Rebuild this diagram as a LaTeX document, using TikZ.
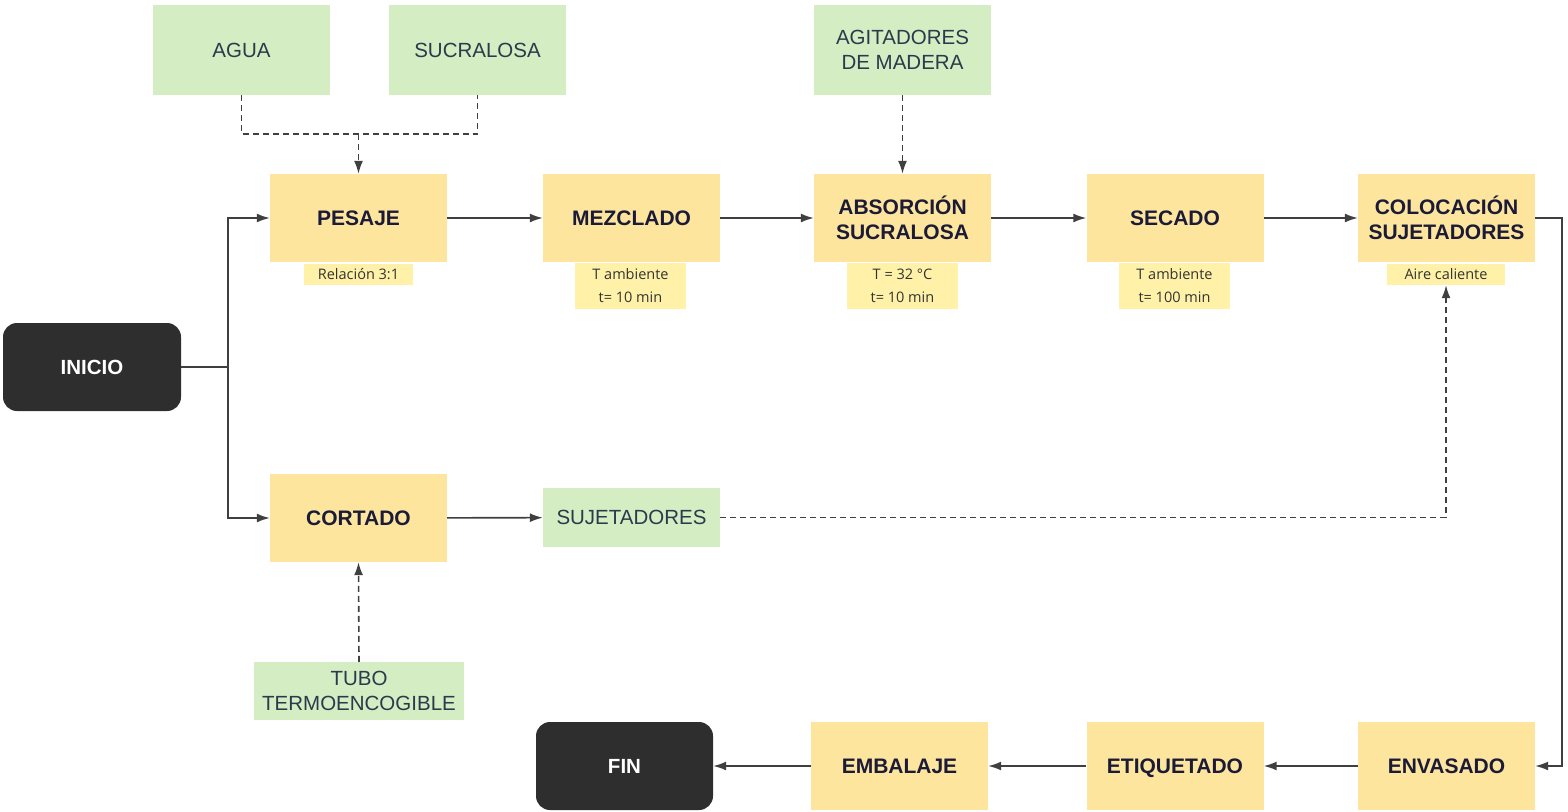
\documentclass[tikz,border=0pt]{standalone}
\usepackage{fontspec}
\setmainfont{Liberation Sans}
\newfontfamily\subfont{Open Sans}
\usetikzlibrary{arrows.meta}
\definecolor{ylw}{HTML}{FDE59E}
\definecolor{subylw}{HTML}{FFF2A8}
\definecolor{grn}{HTML}{D5EDC3}
\definecolor{drk}{HTML}{2E2E2E}
\definecolor{navy}{HTML}{1B1B38}
\definecolor{slate}{HTML}{2C3A4C}
\definecolor{ln}{HTML}{3F3F3F}
\begin{document}
\begin{tikzpicture}[x=1pt,y=-1pt,
  proc/.style={fill=ylw,minimum width=177pt,minimum height=88pt,inner sep=0pt,align=center,
     font=\fontsize{21}{24.5}\selectfont\bfseries,text=navy},
  mat/.style={fill=grn,minimum width=177pt,minimum height=90pt,inner sep=0pt,align=center,
     font=\fontsize{20.5}{24.5}\selectfont,text=slate},
  term/.style={fill=drk,rounded corners=14pt,minimum width=178pt,minimum height=88pt,inner sep=0pt,
     font=\fontsize{20.5}{24}\selectfont\bfseries,text=white},
  sub/.style={fill=subylw,inner sep=0pt,align=center,font=\subfont\fontsize{14.5}{23}\selectfont,text=black!80},
  con/.style={draw=ln,line width=1.6pt},
  arr/.style={con,-{Latex[length=13pt,width=9pt]}},
  dsh/.style={draw=ln,line width=1.6pt,dash pattern=on 6pt off 4pt},
  darr/.style={dsh,-{Latex[length=13pt,width=9pt]}}]
\useasboundingbox (0,0) rectangle (1568,811);

% material boxes
\node[mat] (agua) at (241.5,50) {AGUA};
\node[mat] (sucralosa) at (477.5,50) {SUCRALOSA};
\node[mat] (agitadores) at (902.5,50) {AGITADORES\\DE MADERA};

% process row 1
\node[proc] (pesaje) at (358.5,218) {PESAJE};
\node[proc] (mezclado) at (631.5,218) {MEZCLADO};
\node[proc] (absorcion) at (902.5,218) {ABSORCIÓN\\SUCRALOSA};
\node[proc] (secado) at (1175,218) {SECADO};
\node[proc] (colocacion) at (1446.5,218) {COLOCACIÓN\\SUJETADORES};

% sub labels
\node[sub,minimum width=109pt,minimum height=21pt] (pesajesub) at (358.5,274.5) {Relación 3:1};
\node[sub,minimum width=111pt,minimum height=46pt] (mezcladosub) at (630.5,286) {T ambiente\\t= 10 min};
\node[sub,minimum width=111pt,minimum height=46pt] (absorcionsub) at (902.5,286) {T = 32 °C\\t= 10 min};
\node[sub,minimum width=111pt,minimum height=46pt] (secadosub) at (1174.5,286) {T ambiente\\t= 100 min};
\node[sub,minimum width=118pt,minimum height=21pt] (colocacionsub) at (1446,274.5) {Aire caliente};

% start / cut
\node[term] (inicio) at (92,367) {INICIO};
\node[proc] (cortado) at (358.5,518) {CORTADO};
\node[mat,minimum height=59pt] (sujetadores) at (631.5,517.5) {SUJETADORES};
\node[mat,minimum width=210pt,minimum height=58pt] (tubo) at (359,691) {TUBO\\TERMOENCOGIBLE};

% bottom row
\node[term,minimum width=177pt] (fin) at (624.5,766) {FIN};
\node[proc] (embalaje) at (899.5,766) {EMBALAJE};
\node[proc] (etiquetado) at (1175,766) {\raisebox{0pt}[\height][0pt]{ETIQUETADO}};
\node[proc] (envasado) at (1446.5,766) {ENVASADO};

% connectors
\coordinate (split) at (228,367);
\draw[con] (inicio.east) -- (split);
\draw[arr] (split) |- (pesaje.west);
\draw[arr] (split) |- (cortado.west);
\draw[arr] (pesaje) -- (mezclado);
\draw[arr] (mezclado) -- (absorcion);
\draw[arr] (absorcion) -- (secado);
\draw[arr] (secado) -- (colocacion);
\coordinate (rturn) at (1562,218);
\draw[arr] (colocacion.east) -- (rturn) |- (envasado.east);
\draw[arr] (envasado) -- (etiquetado);
\draw[arr] (etiquetado) -- (embalaje);
\draw[arr] (embalaje) -- (fin);
\draw[arr] (cortado) -- (sujetadores);

% dashed material inputs
\coordinate (join) at (358.5,134);
\draw[dsh] (agua.south) -- (agua.south |- join) -| (sucralosa.south);
\draw[darr] (join) -- (pesaje.north);
\draw[darr] (agitadores.south) -- (absorcion.north);
\draw[darr] (tubo.north) -- (cortado.south);
\draw[darr] (sujetadores.east) -| (colocacionsub.south);
\end{tikzpicture}
\end{document}
